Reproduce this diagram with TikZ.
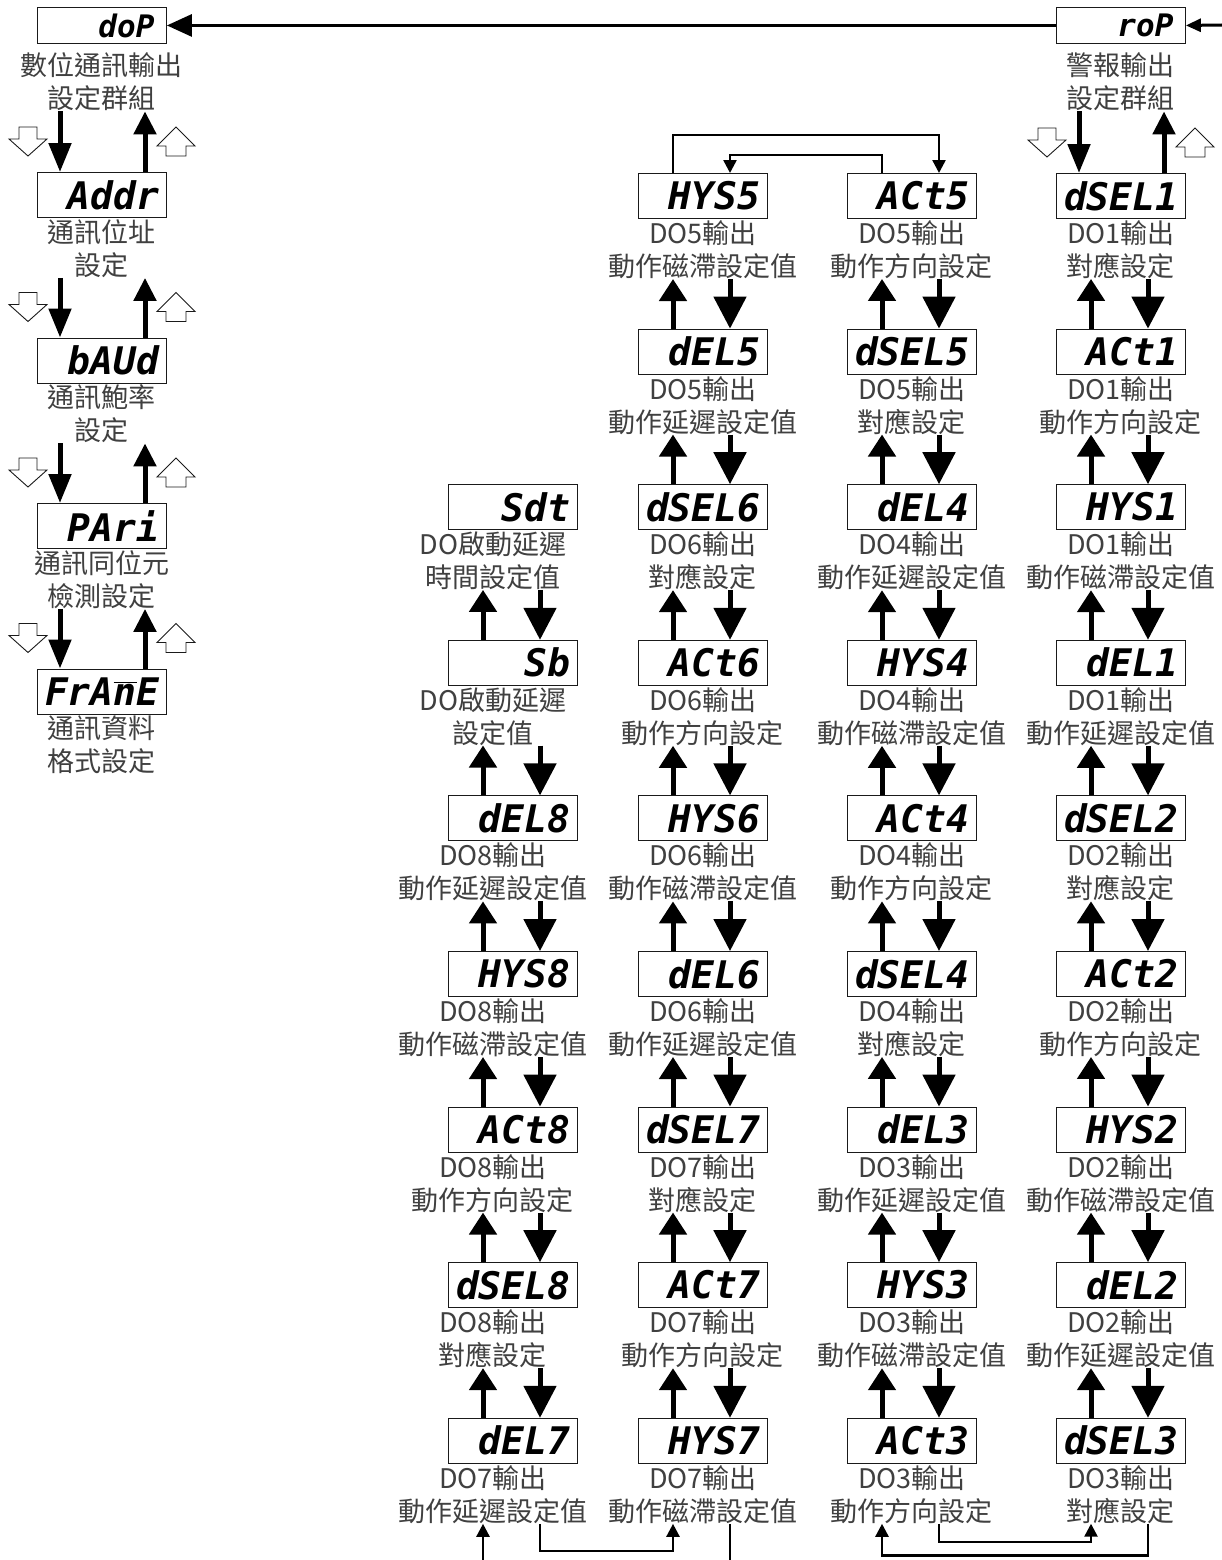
\documentclass[tikz,border=0pt]{standalone}
\usepackage{fontspec}
\usetikzlibrary{arrows.meta,calc}
\newfontfamily\cjk{Noto Sans CJK TC}
\newfontfamily\segfont{DejaVu Sans Mono}
\definecolor{ink}{HTML}{1A1A1A}
\definecolor{txt}{HTML}{404040}
\tikzset{
  disp/.style={draw=ink, line width=0.9pt, anchor=north west, inner sep=0pt,
    minimum width=129pt, minimum height=45pt, text width=115pt, align=right,
    font=\segfont\bfseries\itshape\fontsize{38}{38}\selectfont},
  grp/.style={disp, minimum height=36pt, text width=105pt,
    font=\segfont\bfseries\itshape\fontsize{31}{31}\selectfont},
  lbl/.style={inner sep=0pt, align=center, text=txt, font=\cjk\fontsize{27}{33}\selectfont},
  upar/.style={line width=5pt, -{Triangle[length=22pt,width=27pt]}},
  dnar/.style={line width=5pt, -{Triangle[length=32pt,width=32pt]}},
  aup/.style={line width=5pt, -{Triangle[length=23pt,width=22pt]}},
  adn/.style={line width=5pt, -{Triangle[length=29pt,width=22pt]}},
  link/.style={line width=2.5pt, -{Triangle[length=13pt,width=13pt]}},
  wire/.style={line width=2.5pt},
  toparr/.style={line width=3pt, -{Triangle[length=25pt,width=22pt]}},
  feedarr/.style={line width=3pt, -{Triangle[length=15pt,width=13pt]}},
  hollow/.style={draw=ink, line width=0.9pt, fill=white},
  hdown/.pic={\draw[hollow] (-9,0) -- (9,0) -- (9,12) -- (19,12) -- (0,29) -- (-19,12) -- (-9,12) -- cycle;},
  hup/.pic={\draw[hollow] (0,0) -- (19,19) -- (10,19) -- (10,29) -- (-10,29) -- (-10,19) -- (-19,19) -- cycle;},
}
\newcommand{\Apos}[1]{(37, {172+165.5*(#1-1)})}
\newcommand{\Bpos}[1]{(448, {173+155.6*(#1-1)})}
\newcommand{\Cpos}[1]{(638, {173+155.6*(#1-1)})}
\newcommand{\Dpos}[1]{(847, {173+155.6*(#1-1)})}
\newcommand{\Epos}[1]{(1056, {173+155.6*(#1-1)})}
\newcommand{\barn}{\ensuremath{\overline{\hbox{n}}}}
\newcommand{\updown}[2]{% upper label, lower box
  \draw[upar] ([xshift=35pt]#2.north west) -- ([xshift=35pt]#2.north west |- #1.south);
  \draw[dnar] ([xshift=92pt]#2.north west |- #1.south) -- ([xshift=92pt]#2.north west);}
\newcommand{\keypair}[2]{% upper label, lower box (with key symbols)
  \draw[adn] ([xshift=23pt]#2.north west |- #1.south) -- ([xshift=23pt]#2.north west);
  \draw[aup] ([xshift=108pt]#2.north west) -- ([xshift=108pt]#2.north west |- #1.south);
  \pic at ([xshift=-9pt,yshift=45pt]#2.north west) {hdown};
  \pic at ([xshift=139pt,yshift=45pt]#2.north west) {hup};}

\begin{document}
\begin{tikzpicture}[x=1pt, y=-1pt]
  \fill[white] (0,0) rectangle (1222,1560);
  \useasboundingbox (0,0) rectangle (1222,1560);
  \coordinate (feed) at (1222,25);
  \coordinate (cut) at (0,1560);
  % group heads
  \node[grp, label={[lbl, name=la0, label distance=9pt]below:數位通訊輸出\\設定群組}] (a0) at (37,7) {doP};
  \node[grp, label={[lbl, name=le0, label distance=9pt]below:警報輸出\\設定群組}] (e0) at (1056,7) {roP};
  \draw[toparr] (e0.west) -- (a0.east);
  \draw[feedarr] (feed) -- (e0.east);
  % communication column
  \foreach \t/\u/\v [count=\i] in {Addr/通訊位址/設定, bAUd/通訊鮑率/設定,
      PAri/通訊同位元/檢測設定, FrA\barn E/通訊資料/格式設定}
    \node[disp, label={[lbl, name=la\i, label distance=1.5pt]below:\u\\\v}] (a\i) at \Apos{\i} {\t};
  \foreach \i/\j in {0/1,1/2,2/3,3/4} {\keypair{la\i}{a\j}}
  % DO columns
  \foreach \t/\u/\v [count=\i from 3] in {Sdt/DO啟動延遲/時間設定值, Sb/DO啟動延遲/設定值,
      dEL8/DO8輸出/動作延遲設定值, HYS8/DO8輸出/動作磁滯設定值, ACt8/DO8輸出/動作方向設定,
      dSEL8/DO8輸出/對應設定, dEL7/DO7輸出/動作延遲設定值}
    \node[disp, label={[lbl, name=lb\i, label distance=1.5pt, xshift=-20pt]below:\u\\\v}] (b\i) at \Bpos{\i} {\t};
  \foreach \t/\u/\v [count=\i] in {HYS5/DO5輸出/動作磁滯設定值, dEL5/DO5輸出/動作延遲設定值,
      dSEL6/DO6輸出/對應設定, ACt6/DO6輸出/動作方向設定, HYS6/DO6輸出/動作磁滯設定值,
      dEL6/DO6輸出/動作延遲設定值, dSEL7/DO7輸出/對應設定, ACt7/DO7輸出/動作方向設定,
      HYS7/DO7輸出/動作磁滯設定值}
    \node[disp, label={[lbl, name=lc\i, label distance=1.5pt]below:\u\\\v}] (c\i) at \Cpos{\i} {\t};
  \foreach \t/\u/\v [count=\i] in {ACt5/DO5輸出/動作方向設定, dSEL5/DO5輸出/對應設定,
      dEL4/DO4輸出/動作延遲設定值, HYS4/DO4輸出/動作磁滯設定值, ACt4/DO4輸出/動作方向設定,
      dSEL4/DO4輸出/對應設定, dEL3/DO3輸出/動作延遲設定值, HYS3/DO3輸出/動作磁滯設定值,
      ACt3/DO3輸出/動作方向設定}
    \node[disp, label={[lbl, name=ld\i, label distance=1.5pt]below:\u\\\v}] (d\i) at \Dpos{\i} {\t};
  \foreach \t/\u/\v [count=\i] in {dSEL1/DO1輸出/對應設定, ACt1/DO1輸出/動作方向設定,
      HYS1/DO1輸出/動作磁滯設定值, dEL1/DO1輸出/動作延遲設定值, dSEL2/DO2輸出/對應設定,
      ACt2/DO2輸出/動作方向設定, HYS2/DO2輸出/動作磁滯設定值, dEL2/DO2輸出/動作延遲設定值,
      dSEL3/DO3輸出/對應設定}
    \node[disp, label={[lbl, name=le\i, label distance=1.5pt]below:\u\\\v}] (e\i) at \Epos{\i} {\t};
  \keypair{le0}{e1}
  \foreach \i/\j in {3/4,4/5,5/6,6/7,7/8,8/9} {\updown{lb\i}{b\j}}
  \foreach \k in {c,d,e} {
    \foreach \i/\j in {1/2,2/3,3/4,4/5,5/6,6/7,7/8,8/9} {\updown{l\k\i}{\k\j}}
  }
  % column turns
  \draw[link] ([xshift=35pt]c1.north west) -- ++(0,-38) -| ([xshift=92pt]d1.north west);
  \draw[link] ([xshift=35pt]d1.north west) -- ++(0,-18) -| ([xshift=92pt]c1.north west);
  \draw[link] ([xshift=92pt]e9.north west |- le9.south) -- ++(0,32) -| ([xshift=35pt]d9.north west |- ld9.south);
  \draw[link] ([xshift=92pt]d9.north west |- ld9.south) -- ++(0,18) -| ([xshift=35pt]e9.north west |- le9.south);
  \draw[link] ([xshift=92pt]b9.north west |- lb9.south) -- ++(0,27) -| ([xshift=35pt]c9.north west |- lc9.south);
  \draw[wire] ([xshift=92pt]c9.north west |- lc9.south) -- ([xshift=92pt]c9.north west |- cut);
  \draw[link] ([xshift=35pt]b9.north west |- cut) -- ([xshift=35pt]b9.north west |- lb9.south);
\end{tikzpicture}
\end{document}
